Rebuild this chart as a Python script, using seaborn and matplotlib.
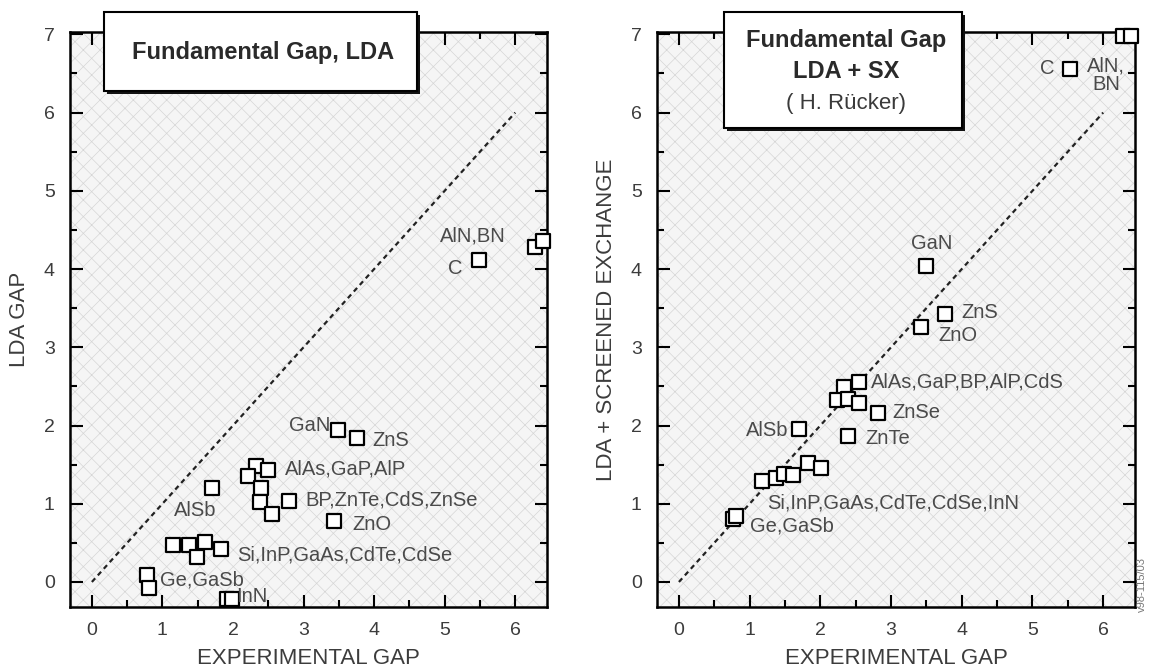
import matplotlib
matplotlib.use("Agg")
import matplotlib.pyplot as plt
from matplotlib.patches import Rectangle
from matplotlib.ticker import MultipleLocator
import seaborn as sns
import pandas as pd

# ---- data -------------------------------------------------------------
# Left panel: experimental gap vs. LDA gap
lda_exp = [6.28, 6.40, 5.49, 3.49, 3.76, 3.43,
           2.33, 2.50, 2.21,
           2.40, 2.38, 2.79, 2.55,
           1.70,
           1.15, 1.38, 1.60, 1.83, 1.49,
           0.78, 0.81,
           1.92, 1.98]
lda_gap = [4.28, 4.36, 4.11, 1.94, 1.84, 0.78,
           1.48, 1.43, 1.35,
           1.20, 1.02, 1.03, 0.87,
           1.20,
           0.47, 0.47, 0.51, 0.42, 0.32,
           0.09, -0.08,
           -0.22, -0.22]

# Right panel: experimental gap vs. LDA + screened exchange
sx_exp = [6.28, 6.40, 5.53, 3.50, 3.77, 3.43,
          2.34, 2.54, 2.24, 2.39, 2.55,
          2.82, 2.39, 1.70,
          1.17, 1.37, 1.48, 1.61, 1.82, 2.01,
          0.77, 0.81]
sx_gap = [6.98, 6.98, 6.56, 4.04, 3.42, 3.26,
          2.49, 2.56, 2.32, 2.34, 2.29,
          2.16, 1.86, 1.95,
          1.29, 1.33, 1.38, 1.37, 1.52, 1.46,
          0.80, 0.84]

# Diagonal reference (theory = experiment)
diag = [0, 6]

# Compound labels: text, anchor x, anchor y, alignment
lda_labels = [("AlN,BN", 5.86, 4.42, "right"),
              ("C", 5.25, 4.01, "right"),
              ("GaN", 3.38, 2.00, "right"),
              ("ZnS", 3.97, 1.81, "left"),
              ("AlAs,GaP,AlP", 2.74, 1.44, "left"),
              ("BP,ZnTe,CdS,ZnSe", 3.02, 1.05, "left"),
              ("ZnO", 3.69, 0.74, "left"),
              ("AlSb", 1.77, 0.91, "right"),
              ("Si,InP,GaAs,CdTe,CdSe", 2.06, 0.34, "left"),
              ("Ge,GaSb", 0.96, 0.03, "left"),
              ("InN", 2.04, -0.19, "left")]
sx_labels = [("AlN,\nBN", 6.04, 6.48, "center"),
             ("C", 5.31, 6.56, "right"),
             ("GaN", 3.58, 4.33, "center"),
             ("ZnS", 4.00, 3.44, "left"),
             ("ZnO", 3.67, 3.15, "left"),
             ("AlAs,GaP,BP,AlP,CdS", 2.72, 2.55, "left"),
             ("ZnSe", 3.02, 2.16, "left"),
             ("ZnTe", 2.64, 1.84, "left"),
             ("AlSb", 1.55, 1.94, "right"),
             ("Si,InP,GaAs,CdTe,CdSe,InN", 1.25, 1.01, "left"),
             ("Ge,GaSb", 1.01, 0.72, "left")]

x_ticks = [0, 1, 2, 3, 4, 5, 6]
y_ticks = [0, 1, 2, 3, 4, 5, 6, 7]

# ---- style ------------------------------------------------------------
sns.set_theme(style="ticks")
plt.rcParams["font.family"] = ["Liberation Sans", "DejaVu Sans"]
plt.rcParams["hatch.linewidth"] = 0.5

TXT = "#3c3c3c"
W, H = 1149, 672
fig = plt.figure(figsize=(W / 100, H / 100), dpi=100)
fig.patch.set_facecolor("white")


def px_box(x0, y0, x1, y1):
    return [x0 / W, 1 - y1 / H, (x1 - x0) / W, (y1 - y0) / H]


def style_axes(ax, xlabel, ylabel):
    ax.set_xlim(-0.31, 6.45)
    ax.set_ylim(-0.32, 7.03)
    ax.set_facecolor("#f5f5f5")
    ax.add_patch(Rectangle((0, 0), 1, 1, transform=ax.transAxes,
                           facecolor="none", edgecolor="#d6d6d6",
                           hatch="xx", lw=0, zorder=0))
    ax.set_xticks(x_ticks)
    ax.set_yticks(y_ticks)
    ax.xaxis.set_minor_locator(MultipleLocator(0.5))
    ax.yaxis.set_minor_locator(MultipleLocator(0.5))
    ax.tick_params(which="both", direction="in", top=True, right=True,
                   width=1.5, color="black", labelsize=14,
                   labelcolor=TXT)
    ax.tick_params(which="major", length=9, pad=11)
    ax.tick_params(which="minor", length=5)
    for s in ax.spines.values():
        s.set_linewidth(1.8)
        s.set_color("black")
    ax.set_xlabel(xlabel, fontsize=16, color=TXT, labelpad=6)
    ax.set_ylabel(ylabel, fontsize=16, color=TXT, labelpad=10)


def draw_panel(ax, xs, ys, labels):
    sns.lineplot(x=diag, y=diag, ax=ax, color="#222222", lw=1.6,
                 linestyle=(0, (2.2, 1.8)), zorder=2)
    df = pd.DataFrame({"exp": xs, "calc": ys})
    sns.scatterplot(data=df, x="exp", y="calc", ax=ax, marker="s", s=115,
                    facecolor="white", edgecolor="black", linewidth=1.6,
                    zorder=3, clip_on=False)
    for text, lx, ly, ha in labels:
        ax.text(lx, ly, text, ha=ha, va="center", fontsize=14.5,
                color="#4a4a4a", zorder=4, linespacing=1.0)


ax1 = fig.add_axes(px_box(70, 32, 547, 607))
draw_panel(ax1, lda_exp, lda_gap, lda_labels)
style_axes(ax1, "EXPERIMENTAL GAP", "LDA GAP")

ax2 = fig.add_axes(px_box(657, 32, 1135, 607))
draw_panel(ax2, sx_exp, sx_gap, sx_labels)
style_axes(ax2, "EXPERIMENTAL GAP", "LDA + SCREENED EXCHANGE")


# ---- title boxes ------------------------------------------------------
def title_box(x0, y0, x1, y1):
    sh = 3
    fig.add_artist(Rectangle(((x0 + sh) / W, 1 - (y1 + sh) / H),
                             (x1 - x0) / W, (y1 - y0) / H,
                             transform=fig.transFigure, facecolor="#111111",
                             edgecolor="none", zorder=5))
    fig.add_artist(Rectangle((x0 / W, 1 - y1 / H), (x1 - x0) / W, (y1 - y0) / H,
                             transform=fig.transFigure, facecolor="white",
                             edgecolor="black", lw=1.5, zorder=6))


title_box(104, 12, 417, 91)
fig.text(263 / W, 1 - 52 / H, "Fundamental Gap, LDA", ha="center", va="center",
         fontsize=17, fontweight="bold", color="#2a2a2a", zorder=7)

title_box(724, 12, 962, 128)
fig.text(846 / W, 1 - 40 / H, "Fundamental Gap", ha="center", va="center",
         fontsize=17, fontweight="bold", color="#2a2a2a", zorder=7)
fig.text(846 / W, 1 - 71 / H, "LDA + SX", ha="center", va="center",
         fontsize=17, fontweight="bold", color="#2a2a2a", zorder=7)
fig.text(846 / W, 1 - 104 / H, "( H. Rücker)", ha="center", va="center",
         fontsize=16, color="#3a3a3a", zorder=7)

fig.text(1142 / W, 1 - 585 / H, "v98-115/03", rotation=90, ha="center",
         va="center", fontsize=8, color="#777777")

fig.savefig("out.png", dpi=100)
